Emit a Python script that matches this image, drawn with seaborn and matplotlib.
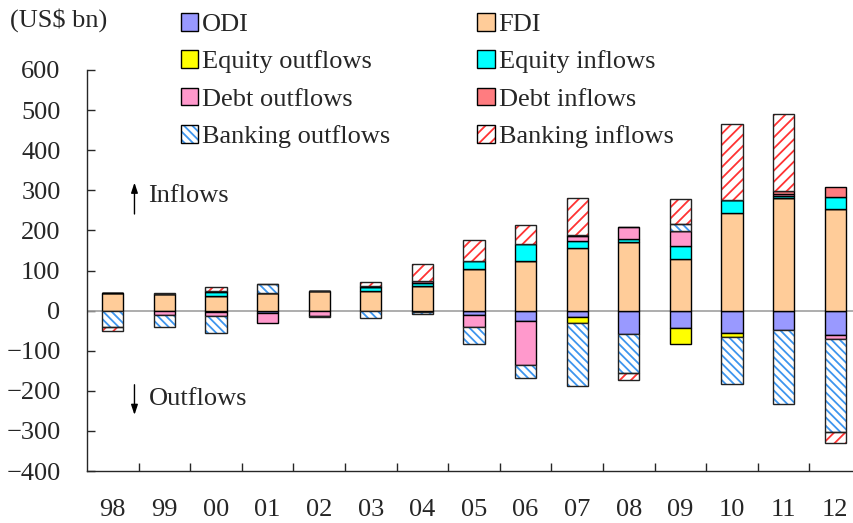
import numpy as np
import matplotlib
matplotlib.use("Agg")
import matplotlib.pyplot as plt
import seaborn as sns
from matplotlib.patches import Patch

sns.set_style("ticks")
plt.rcParams['font.family'] = ['Liberation Serif', 'DejaVu Serif']
plt.rcParams['hatch.linewidth'] = 1.3

years = ['98', '99', '00', '01', '02', '03', '04', '05', '06', '07', '08', '09', '10', '11', '12']

# US$ bn, signed: positive stacks up, negative stacks down
odi      = [-2, -2, -3, -7, -2, -1, -3, -12, -25, -17, -58, -44, -56, -48, -60]
fdi      = [44, 41, 37, 43, 50, 50, 61, 103, 123, 155, 170, 129, 243, 280, 253]
eq_out   = [0, 0, 0, 0, 0, 0, 0, 0, 0, -14, 0, -40, -9, 0, 0]
eq_in    = [1, 0, 9, 1, 0, 8, 9, 21, 43, 19, 9, 31, 33, 5, 31]
debt_out = [0, -10, -10, -24, -11, 0, 3, -28, -110, 12, 29, 38, 0, 6, -10]
debt_in  = [0, 0, 2, 0, 0, 3, 2, 0, 0, 2, 0, 0, 0, 8, 25]
bank_out = [-39, -28, -43, 22, -4, -17, -5, -44, -32, -156, -98, 19, -118, -184, -233]
bank_in  = [-9, 2, 10, 0, 0, 11, 40, 52, 47, 93, -16, 62, 189, 191, -27]

series = [
    ("ODI", odi, "#9999FF", None),
    ("FDI", fdi, "#FFCC99", None),
    ("Equity outflows", eq_out, "#FFFF00", None),
    ("Equity inflows", eq_in, "#00FFFF", None),
    ("Debt outflows", debt_out, "#FF99CC", None),
    ("Debt inflows", debt_in, "#FF7C80", None),
    ("Banking outflows", bank_out, "#3D95EE", "\\\\\\\\"),
    ("Banking inflows", bank_in, "#FF3333", "///"),
]

fig = plt.figure(figsize=(8.54, 5.23), dpi=100)
ax = fig.add_axes([87/854, 52/523, 774/854, 401/523])

x = np.arange(len(years))
w = 0.41
pos_base = np.zeros(len(years))
neg_base = np.zeros(len(years))
handles = {}
for name, vals, col, hatch in series:
    v = np.array(vals, dtype=float)
    bottom = np.where(v >= 0, pos_base, neg_base)
    if hatch is None:
        ax.bar(x, v, w, bottom=bottom, color=col, edgecolor="black", linewidth=1, zorder=3)
        handles[name] = Patch(facecolor=col, edgecolor="black", linewidth=1)
    else:
        ax.bar(x, v, w, bottom=bottom, color="white", edgecolor=col, hatch=hatch, linewidth=0, zorder=3)
        ax.bar(x, v, w, bottom=bottom, color="none", edgecolor="#222222", linewidth=1, zorder=4)
        handles[name] = (Patch(facecolor="white", edgecolor=col, hatch=hatch, linewidth=0),
                         Patch(facecolor="none", edgecolor="black", linewidth=1))
    pos_base = pos_base + np.where(v > 0, v, 0)
    neg_base = neg_base + np.where(v < 0, v, 0)

ax.axhline(0, color="#A0A0A0", linewidth=1.2, zorder=2)
ax.set_ylim(-400, 600)
ax.set_xlim(-0.5, 14.5)
ax.set_yticks(range(-400, 601, 100))
ax.set_xticks(x)
ax.set_xticklabels(years)
ax.set_xticks(np.arange(0.5, 14.5, 1), minor=True)
ax.tick_params(axis="y", labelsize=19, length=5.5, width=1, pad=19, direction="in")
ax.tick_params(axis="x", which="major", labelsize=19, length=0, pad=20)
ax.tick_params(axis="x", which="minor", length=5.5, width=1, direction="in")
for s in ["top", "right"]:
    ax.spines[s].set_visible(False)
ax.spines["left"].set_linewidth(1)
ax.spines["bottom"].set_linewidth(1)

arrow = dict(arrowstyle="-|>,head_length=0.6,head_width=0.2", color="black", lw=1)
ax.annotate("", xy=(0.42, 326), xytext=(0.42, 234), arrowprops=arrow)
ax.text(0.69, 286, "Inflows", fontsize=19, va="center", ha="left")
ax.annotate("", xy=(0.42, -267), xytext=(0.42, -178), arrowprops=arrow)
ax.text(0.69, -220, "Outflows", fontsize=19, va="center", ha="left")

fig.text(10/854, 1 - 20/523, "(US$ bn)", fontsize=19, va="center", ha="left")

order = ["ODI", "Equity outflows", "Debt outflows", "Banking outflows",
         "FDI", "Equity inflows", "Debt inflows", "Banking inflows"]
fig.legend([handles[n] for n in order], order, ncol=2, loc="upper left",
           bbox_to_anchor=(181/854, 1 - 13/523), frameon=False, fontsize=19,
           handlelength=0.65, handleheight=0.65, handletextpad=0.15,
           labelspacing=0.54, columnspacing=3.3, borderpad=0, borderaxespad=0)

fig.savefig("out.png", dpi=100)
